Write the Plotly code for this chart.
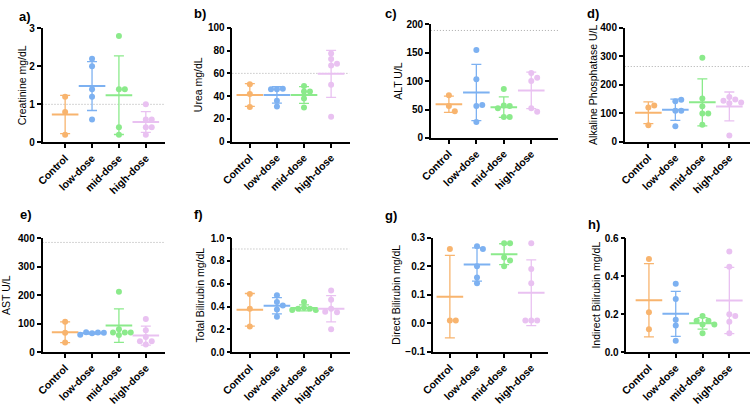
import numpy as np
import plotly.graph_objects as go

# ---------------- data ----------------
groups = ["Control", "low-dose", "mid-dose", "high-dose"]

creatinine = [[0.2, 0.8, 1.2], [2.2, 2.0, 1.4, 1.2, 0.6], [2.8, 1.4, 1.4, 0.4, 0.2],
              [1.0, 0.6, 0.6, 0.4, 0.4, 0.2]]
urea = [[50.5, 42, 30.5], [46, 46.5, 46, 36, 31], [49, 44, 44, 38, 30],
        [77.5, 72.5, 67, 68.5, 50, 22]]
alt = [[75, 56, 47], [154.5, 103, 56, 58, 28], [86, 57, 56, 52, 37, 37],
       [114, 106, 100, 52, 46]]
alp = [[120, 127, 58], [142, 147, 109, 109, 54], [295, 152, 125, 99, 99, 60],
       [157, 148, 144, 138, 135, 22]]
ast = [[107, 68, 34], [66, 69, 70, 68, 61], [212, 80, 69, 69, 69, 60],
       [116, 77, 53, 38, 38, 27]]
tbil = [[0.51, 0.38, 0.225], [0.5, 0.44, 0.41, 0.375, 0.31],
        [0.44, 0.39, 0.38, 0.38, 0.37, 0.37], [0.54, 0.46, 0.38, 0.35, 0.355, 0.2]]
dbil = [[0.26, 0.01, 0.01], [0.27, 0.26, 0.2, 0.16, 0.14], [0.28, 0.28, 0.23, 0.22, 0.2],
        [0.28, 0.19, 0.14, 0.01, 0.01, 0.01]]
ibil = [[0.49, 0.21, 0.12], [0.36, 0.28, 0.17, 0.14, 0.06],
        [0.19, 0.165, 0.165, 0.145, 0.145, 0.10], [0.53, 0.45, 0.2, 0.19, 0.16, 0.1]]

panel_data = [creatinine, urea, alt, alp, ast, tbil, dbil, ibil]
panel_titles = ["Creatinine mg/dL", "Urea mg/dL", "ALT U/L", "Alkaline Phosphatase U/L",
                "AST U/L", "Total Bilirubin mg/dL", "Direct Bilirubin mg/dL",
                "Indirect Bilirubin mg/dL"]
panel_letters = ["a)", "b)", "c)", "d)", "e)", "f)", "g)", "h)"]
ref_limits = [1.0, 60, 189, 264, 385, 0.905, None, None]
y_ranges = [(0, 3), (0, 100), (0, 200), (0, 400), (0, 400), (0, 1), (-0.1, 0.3), (0, 0.6)]
y_dticks = [1, 20, 50, 100, 100, 0.2, 0.1, 0.2]
y_formats = ["", "", "", "", "", ".1f", ".1f", ".1f"]

# ---------------- styles / layout geometry (pixels) ----------------
W, H = 750, 406
colors = ["#F8B46E", "#7DB1F1", "#8BEA8B", "#E9C1F1"]
# (y-axis x, first cat x, last cat x, x-axis end, axis top y, axis bottom y)
geom = [
    (31, 54, 136, 155, 23.3, 142.3),
    (224, 241.7, 324.3, 343, 22.7, 141.7),
    (425.7, 444, 527.7, 555, 19, 137.7),
    (622.7, 646.7, 729, 750, 22.7, 141.7),
    (31, 54, 136, 155, 242.3, 361.3),
    (224, 241.7, 324.3, 343, 242.3, 361.3),
    (427.7, 445, 527.7, 545, 241.7, 361),
    (624.3, 647.3, 729, 750, 242.3, 361.3),
]
label_pos = [(5, 11), (183, 7.5), (377, 7.5), (582, 7.5),
             (6, 218), (183, 218), (377, 219), (583, 228)]
title_standoff = [1, 3, 2, 1, 5, 4, 3, 2]

FONT = "Arial, Liberation Sans, sans-serif"
DIAM = 6.0


def swarm(vals, ypx, xpx, diam=DIAM):
    placed, offs = [], []
    for v in vals:
        y = v * ypx
        x = 0.0
        for c in [0, 1, -1, 2, -2, 3, -3]:
            x = c * diam
            if all((x - px) ** 2 + (y - py) ** 2 >= (diam * 0.95) ** 2 for px, py in placed):
                break
        placed.append((x, y))
        offs.append(x / xpx)
    return offs


fig = go.Figure()
layout = {}
annotations = []
shapes = []

for i in range(8):
    ax, c0, c3, xe, yt, yb = geom[i]
    sp = (c3 - c0) / 3.0
    xr = [-(c0 - ax) / sp, 3 + (xe - c3) / sp]
    ymin, ymax = y_ranges[i]
    ypx = (yb - yt) / (ymax - ymin)
    sfx = "" if i == 0 else str(i + 1)
    xa, ya = "x" + sfx, "y" + sfx

    data = panel_data[i]
    for g in range(4):
        vals = np.array(data[g], dtype=float)
        m = vals.mean()
        sd = vals.std(ddof=1)
        fig.add_trace(go.Scatter(
            x=[g], y=[m], xaxis=xa, yaxis=ya, mode="markers",
            marker=dict(symbol="line-ew", size=19, color=colors[g],
                        line=dict(color=colors[g], width=2)),
            error_y=dict(type="data", array=[sd], visible=True, color=colors[g],
                         thickness=1.3, width=5),
            showlegend=False, hoverinfo="skip"))
        offs = swarm(list(vals), ypx, sp)
        fig.add_trace(go.Scatter(
            x=[g + o for o in offs], y=list(vals), xaxis=xa, yaxis=ya, mode="markers",
            marker=dict(size=DIAM, color=colors[g]),
            showlegend=False))

    if ref_limits[i] is not None:
        shapes.append(dict(type="line", xref=xa + " domain", yref=ya,
                           x0=0, x1=1, y0=ref_limits[i], y1=ref_limits[i],
                           line=dict(color="#ABABAB", width=1, dash="1px,2px"), layer="below"))

    layout["xaxis" + sfx] = dict(
        domain=[ax / W, xe / W], range=xr, anchor=ya,
        tickvals=[0, 1, 2, 3], ticktext=groups, tickangle=-45,
        tickfont=dict(family=FONT, size=10.5, color="black", weight="bold"),
        showline=True, linecolor="black", linewidth=1.5,
        ticks="outside", ticklen=4, tickwidth=1.5, tickcolor="black",
        showgrid=False, zeroline=False, fixedrange=True)
    layout["yaxis" + sfx] = dict(
        domain=[1 - yb / H, 1 - yt / H], range=[ymin, ymax], anchor=xa,
        tick0=ymin, dtick=y_dticks[i], tickformat=y_formats[i],
        tickfont=dict(family=FONT, size=10, color="black", weight="bold"),
        showline=True, linecolor="black", linewidth=1.5,
        ticks="outside", ticklen=4, tickwidth=1.5, tickcolor="black",
        showgrid=False, zeroline=False, fixedrange=True,
        title=dict(text=panel_titles[i], standoff=title_standoff[i],
                   font=dict(family=FONT, size=10.5, color="black")))

    lx, ly = label_pos[i]
    annotations.append(dict(text="<b>" + panel_letters[i] + "</b>", xref="paper", yref="paper",
                            x=lx / W, y=1 - ly / H, xanchor="left", yanchor="middle",
                            showarrow=False, font=dict(family=FONT, size=13, color="black")))

fig.update_layout(
    width=W, height=H, margin=dict(l=0, r=0, t=0, b=0),
    paper_bgcolor="white", plot_bgcolor="white",
    showlegend=False, annotations=annotations, shapes=shapes, **layout)

fig.write_html("out.html")
